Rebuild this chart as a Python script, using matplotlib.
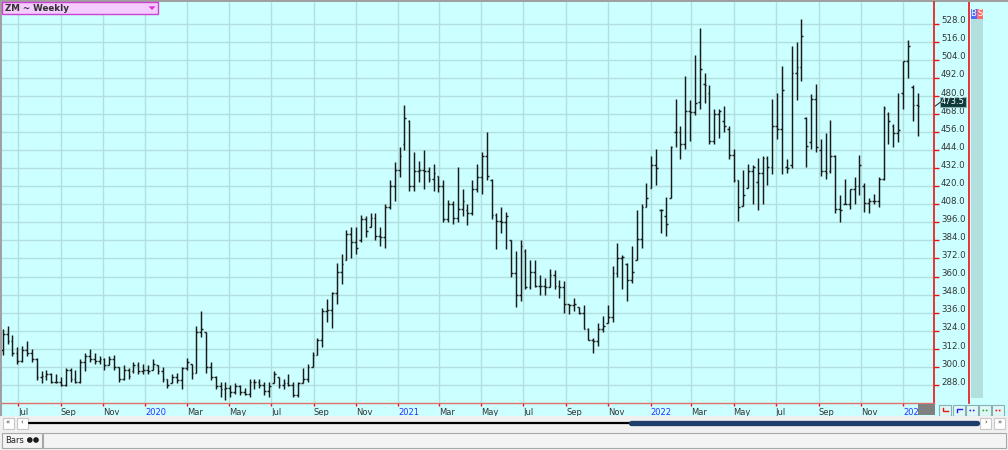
import numpy as np
import pandas as pd
import matplotlib
matplotlib.use('Agg')
import matplotlib.pyplot as plt
import matplotlib.dates as mdates
from matplotlib.patches import Rectangle, Polygon, Circle

plt.rcParams['font.family'] = ['DejaVu Sans']

# ZM weekly bars (week ending dates)
first_week = '2019-06-09'
highs = [325, 327, 321, 313, 314, 317, 312, 306, 297, 298,
         296, 295, 293, 299, 299, 298, 305, 309, 312, 309,
         307, 306, 307, 308, 300, 301, 299, 303, 303, 302,
         301, 305, 301, 300, 292, 295, 296, 300, 306, 302,
         327, 337, 323, 303, 294, 290, 290, 288, 289, 288,
         286, 292, 292, 292, 290, 290, 297, 293, 292, 295,
         290, 290, 299, 302, 310, 319, 339, 345, 350, 369,
         375, 391, 393, 393, 401, 400, 402, 402, 393, 408,
         424, 436, 446, 474, 464, 443, 437, 444, 433, 435,
         427, 424, 411, 410, 433, 418, 408, 424, 435, 443,
         456, 425, 402, 406, 403, 384, 377, 384, 378, 371,
         371, 361, 359, 365, 364, 358, 357, 342, 346, 340,
         341, 326, 319, 329, 334, 341, 367, 382, 374, 369,
         380, 404, 408, 422, 440, 445, 405, 413, 447, 478,
         460, 493, 477, 507, 525, 495, 487, 471, 471, 473,
         460, 445, 424, 431, 435, 434, 439, 440, 440, 478,
         482, 500, 438, 513, 516, 531, 466, 481, 488, 451,
         455, 464, 441, 414, 425, 418, 426, 441, 422, 412,
         415, 426, 473, 469, 461, 482, 503, 517, 487, 482]
lows = [308, 315, 307, 302, 303, 307, 303, 291, 289, 291,
        289, 289, 287, 287, 290, 289, 289, 297, 303, 302,
        302, 298, 301, 298, 290, 291, 292, 296, 295, 295,
        295, 298, 295, 290, 286, 289, 289, 285, 298, 292,
        296, 320, 296, 291, 285, 280, 278, 280, 282, 281,
        281, 280, 285, 286, 281, 280, 289, 286, 285, 287,
        280, 280, 289, 290, 300, 308, 313, 330, 326, 342,
        355, 371, 372, 375, 383, 386, 393, 384, 380, 379,
        405, 410, 426, 444, 417, 417, 423, 418, 423, 417,
        416, 396, 396, 395, 396, 400, 394, 401, 416, 415,
        424, 398, 378, 389, 378, 360, 340, 344, 352, 352,
        353, 348, 348, 353, 352, 346, 336, 335, 337, 335,
        325, 318, 309, 314, 323, 329, 330, 360, 352, 344,
        356, 371, 379, 406, 419, 421, 389, 387, 412, 446,
        438, 445, 450, 467, 471, 475, 448, 448, 452, 456,
        438, 423, 397, 407, 419, 408, 404, 408, 421, 428,
        451, 428, 429, 432, 477, 490, 433, 445, 443, 427,
        425, 429, 402, 396, 408, 405, 408, 414, 403, 402,
        408, 406, 424, 448, 446, 449, 471, 492, 463, 453]
opens = [311, 322, 317, 309, 304, 311, 309, 305, 293, 294,
         295, 290, 290, 288, 298, 292, 290, 303, 307, 305,
         304, 305, 301, 305, 300, 292, 298, 297, 301, 297,
         298, 298, 301, 297, 292, 289, 293, 291, 299, 302,
         296, 323, 323, 300, 293, 287, 285, 286, 283, 287,
         283, 282, 290, 290, 288, 284, 289, 293, 288, 289,
         288, 281, 289, 292, 300, 308, 318, 337, 338, 349,
         363, 371, 388, 383, 384, 398, 393, 399, 387, 386,
         406, 420, 431, 448, 463, 420, 430, 431, 430, 425,
         427, 420, 398, 408, 399, 405, 404, 402, 418, 426,
         440, 424, 401, 397, 396, 384, 362, 348, 377, 353,
         363, 354, 354, 353, 361, 354, 353, 342, 341, 340,
         336, 325, 318, 317, 325, 329, 333, 362, 372, 368,
         358, 371, 385, 406, 419, 434, 404, 400, 412, 456,
         456, 448, 470, 469, 476, 488, 482, 450, 468, 463,
         458, 441, 424, 407, 419, 430, 423, 429, 439, 433,
         460, 458, 433, 434, 495, 499, 465, 449, 478, 444,
         430, 430, 440, 405, 408, 408, 418, 420, 420, 409,
         410, 410, 425, 468, 460, 455, 482, 503, 486, 474]
closes = [322, 317, 309, 304, 311, 309, 305, 293, 294, 295,
          290, 290, 288, 298, 292, 290, 303, 307, 305, 304,
          305, 301, 305, 300, 292, 298, 294, 301, 297, 298,
          297, 302, 297, 292, 288, 293, 291, 299, 303, 296,
          323, 325, 300, 293, 287, 285, 286, 283, 287, 283,
          282, 290, 290, 288, 284, 287, 295, 288, 289, 288,
          281, 289, 292, 300, 308, 318, 337, 338, 349, 363,
          368, 388, 383, 379, 398, 390, 399, 387, 386, 406,
          420, 431, 440, 465, 420, 430, 431, 430, 425, 429,
          420, 398, 408, 399, 405, 410, 402, 418, 426, 440,
          427, 401, 397, 396, 400, 362, 348, 380, 353, 363,
          354, 354, 353, 361, 354, 353, 342, 341, 342, 336,
          325, 318, 317, 325, 327, 333, 362, 372, 373, 358,
          363, 385, 406, 412, 434, 432, 404, 395, 446, 456,
          448, 470, 469, 475, 498, 487, 450, 468, 470, 460,
          441, 424, 406, 414, 430, 433, 429, 439, 433, 460,
          458, 484, 432, 495, 499, 520, 447, 478, 446, 430,
          429, 440, 405, 404, 408, 418, 420, 434, 409, 410,
          410, 425, 472, 463, 455, 457, 503, 513, 474, 473.5]
last_price = 473.5
price_ticks = list(range(288, 529, 12))

W, H = 1008, 450
fig = plt.figure(figsize=(W / 100, H / 100), dpi=100)
fig.patch.set_facecolor('#f0f0f0')


def rect_px(x0, y0, x1, y1):
    # pixel box, top-left origin -> figure fraction
    return [x0 / W, 1 - y1 / H, (x1 - x0) / W, (y1 - y0) / H]


# background chrome (pixel coords)
bg = fig.add_axes([0, 0, 1, 1], zorder=0)
bg.set_xlim(0, W)
bg.set_ylim(H, 0)
bg.axis('off')
bg.add_patch(Rectangle((0, 0), W, 416, fc='#ccffff', ec='none'))
bg.add_patch(Rectangle((970.5, 18), 12.5, 380, fc='#b3dfdf', ec='none'))
bg.plot([969.3, 969.3], [0, 403], color='#ee1111', lw=1.2)
bg.plot([0, W], [0.5, 0.5], color='#a0a0a0', lw=1.5)
bg.plot([0.5, 0.5], [0, 416], color='#a0a0a0', lw=1.5)

# main chart
ax = fig.add_axes(rect_px(2, 2, 934, 403), zorder=1)
ax.set_facecolor('#ccffff')

dates = pd.date_range(first_week, periods=len(highs), freq='7D')
xd = mdates.date2num(dates)
bar_col = '#1a1a1a'
ax.vlines(xd, lows, highs, color=bar_col, lw=1.05, zorder=3)
ax.hlines(opens, xd - 2.6, xd, color=bar_col, lw=1.05, zorder=3)
ax.hlines(closes, xd, xd + 2.6, color=bar_col, lw=1.05, zorder=3)

x_left = mdates.date2num(pd.Timestamp('2019-07-01')) - 16 / 0.6914
x_right = mdates.date2num(pd.Timestamp('2023-01-01')) + 31 / 0.6914
ax.set_xlim(x_left, x_right)
ax.set_ylim(276.0, 542.3)

month_ticks = pd.date_range('2019-07-01', '2023-01-01', freq='2MS')
tick_labels = [str(d.year) if d.month == 1 else d.strftime('%b') for d in month_ticks]
ax.set_xticks(mdates.date2num(month_ticks))
ax.set_xticklabels(tick_labels)
for lbl, d in zip(ax.get_xticklabels(), month_ticks):
    lbl.set_ha('left')
    lbl.set_color('#2f2fff' if d.month == 1 else '#333333')

# price scale on the right: red ticks, labels sit a little above the tick
ax.yaxis.tick_right()
ax.set_yticks(price_ticks)
ax.set_yticklabels([])
ax.tick_params(axis='y', color='#ee1111', length=3.5, width=1, direction='out')
for v in price_ticks:
    ax.annotate(f'{v:.1f}', xy=(1, v), xycoords=('axes fraction', 'data'),
                xytext=(5, 2.0), textcoords='offset points', ha='left', va='center',
                fontsize=6.2, color='#333333', annotation_clip=False)
ax.tick_params(axis='x', color='#ee1111', length=2.5, width=1,
               direction='out', pad=1.2, labelsize=6)
ax.grid(True, color='#b2dfdf', lw=1.0, zorder=0)
ax.set_axisbelow(True)
for side in ['top', 'left']:
    ax.spines[side].set_visible(False)
ax.spines['right'].set_color('#ee1111')
ax.spines['right'].set_linewidth(1.2)
ax.spines['bottom'].set_color('#e07070')
ax.spines['bottom'].set_linewidth(1.0)

# foreground chrome (pixel coords)
fg = fig.add_axes([0, 0, 1, 1], zorder=3)
fg.set_xlim(0, W)
fg.set_ylim(H, 0)
fg.axis('off')
fg.patch.set_alpha(0)

# title box
fg.add_patch(Rectangle((2, 2), 155.5, 12, fc='#f5ccff', ec='#cc44cc', lw=1))
fg.text(5, 8.3, 'ZM ~ Weekly', fontsize=6.3, fontweight='bold', color='#303030',
        va='center', ha='left')
fg.add_patch(Polygon([[148.5, 6.3], [155.5, 6.3], [152, 10]], closed=True,
                     fc='#dd33dd', ec='none'))

# B / S markers
fg.add_patch(Rectangle((970.5, 9), 6, 9.5, fc='#4d6bff', ec='none'))
fg.add_patch(Rectangle((976.5, 9), 6.5, 9.5, fc='#ff6a6a', ec='none'))
fg.text(973.5, 13.8, 'B', fontsize=6, color='white', ha='center', va='center')
fg.text(979.8, 13.8, 'S', fontsize=6, color='white', ha='center', va='center')

# last price box
fg.plot([935.3, 940.7], [106, 102], color='#333333', lw=0.8)
fg.add_patch(Rectangle((940, 97), 25.5, 9.5, fc='#0e3a3a', ec='#8fb5b5', lw=0.8))
fg.text(952.8, 101.9, f'{last_price:.1f}', fontsize=6.0, color='white',
        ha='center', va='center')

# grey block at axis corner and small buttons
fg.add_patch(Rectangle((918, 403.5), 17, 11, fc='#808080', ec='none'))
btn_x = [939, 952.5, 966, 979, 992]
for bx in btn_x:
    fg.add_patch(Rectangle((bx, 405), 12, 11, fc='#dff7f7', ec='#88b0b0', lw=0.8))
fg.plot([943, 943, 948], [407.5, 411, 411], color='#ee1111', lw=1)
fg.plot([956.5, 956.5, 961.5], [412, 408.5, 408.5], color='#2222ee', lw=1)
for bx, col in zip(btn_x[2:], ['#2222ee', '#22aa22', '#ee1111']):
    fg.add_patch(Circle((bx + 4.3, 410.5), 0.9, fc=col, ec='none'))
    fg.add_patch(Circle((bx + 7.7, 410.5), 0.9, fc=col, ec='none'))

# scrollbar row
fg.add_patch(Rectangle((0, 416), W, 16, fc='#f0f0f0', ec='none'))
for bx, glyph in [(2.5, '«'), (16.5, '‹'), (980, '›'), (994, '»')]:
    fg.add_patch(Rectangle((bx, 417.5), 11, 11, fc='white', ec='#c8c8c8', lw=0.8))
    fg.text(bx + 5.5, 422.5, glyph, fontsize=5, color='#333333', ha='center', va='center')
fg.plot([29, 630], [423, 423], color='black', lw=1.6, solid_capstyle='round')
fg.plot([631, 977], [422.8, 422.8], color='#1f3d6b', lw=3.8, solid_capstyle='round')

# status bar
fg.add_patch(Rectangle((2, 433), 40, 15, fc='#f4f4f4', ec='#a8a8a8', lw=0.8))
fg.text(5.5, 440.5, 'Bars', fontsize=6.0, color='#222222', ha='left', va='center')
fg.add_patch(Circle((29.8, 440), 2.8, fc='#1a1a1a', ec='none'))
fg.add_patch(Circle((36.0, 440), 2.8, fc='#1a1a1a', ec='none'))
fg.add_patch(Rectangle((43, 433), 963, 15, fc='#f4f4f4', ec='#a8a8a8', lw=0.8))

fig.savefig('out.png', dpi=100, facecolor=fig.get_facecolor())
